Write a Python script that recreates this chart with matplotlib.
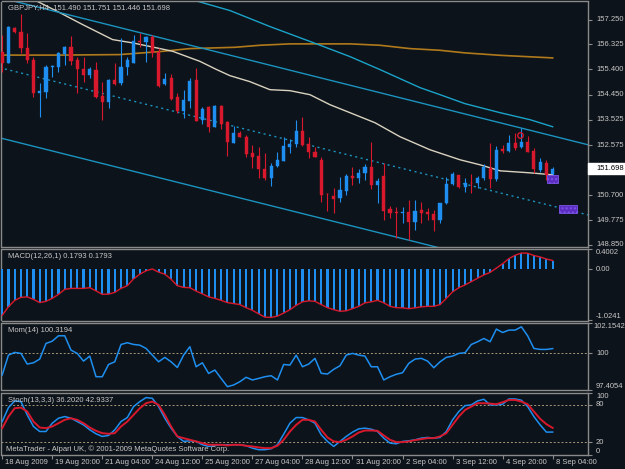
import matplotlib
matplotlib.use('Agg')
import matplotlib.pyplot as plt
from matplotlib.patches import Rectangle
from matplotlib.transforms import blended_transform_factory, offset_copy

# ---------------- data ----------------
opens = [156.056, 155.645, 156.952, 156.802, 156.205, 155.757, 154.525, 154.563, 155.496, 155.496,
         155.981, 156.242, 155.757, 155.421, 155.197, 155.384, 154.413, 154.189, 155.011, 154.899,
         155.496, 155.645, 156.466, 156.429, 156.616, 156.056, 154.861, 155.085, 154.376, 153.853,
         154.227, 155.011, 153.517, 154.003, 153.256, 154.040, 153.443, 152.659, 153.032, 152.883,
         152.286, 152.174, 151.688, 151.352, 151.800, 151.987, 152.509, 152.621, 153.107, 152.621,
         152.323, 152.024, 150.755, 150.680, 150.606, 150.867, 151.427, 151.352, 151.539, 151.763,
         151.091, 151.427, 150.195, 150.083, 150.060, 150.083, 149.710, 150.158, 150.083, 150.008,
         149.784, 150.419, 151.128, 151.464, 151.016, 151.166, 151.166, 151.352, 151.726, 151.315,
         152.435, 152.360, 152.659, 152.509, 152.696, 152.360, 151.651, 151.912, 151.490]
highs = [156.690, 157.000, 156.989, 157.474, 156.765, 155.869, 154.899, 155.571, 155.571, 156.056,
         156.280, 156.653, 155.869, 155.869, 155.496, 155.683, 154.936, 155.048, 155.645, 156.578,
         155.869, 156.690, 156.765, 156.653, 156.690, 156.205, 155.272, 155.235, 154.525, 154.637,
         155.085, 155.459, 154.003, 154.040, 154.077, 154.077, 153.480, 153.293, 153.107, 152.957,
         152.584, 152.509, 152.286, 151.912, 152.323, 152.883, 152.808, 153.517, 153.629, 152.883,
         152.509, 152.136, 150.792, 150.979, 151.390, 151.502, 151.763, 151.688, 151.875, 152.696,
         151.352, 151.912, 150.307, 150.270, 150.270, 150.531, 150.531, 150.456, 150.232, 150.158,
         150.419, 151.390, 151.576, 151.464, 151.352, 151.502, 151.427, 151.875, 152.659, 152.547,
         152.584, 152.957, 153.032, 153.219, 152.920, 152.472, 152.099, 152.024, 151.751]
lows = [155.309, 155.620, 156.765, 156.019, 155.645, 154.376, 153.629, 154.339, 155.123, 155.309,
        155.571, 155.571, 154.525, 154.936, 155.085, 154.339, 153.517, 153.965, 154.824, 154.824,
        155.197, 155.645, 156.242, 155.683, 155.869, 154.749, 154.824, 154.264, 153.779, 153.592,
        153.965, 153.480, 153.368, 153.069, 153.256, 153.181, 152.174, 152.659, 152.883, 152.136,
        151.726, 151.352, 151.278, 151.054, 151.763, 151.987, 152.286, 152.509, 152.547, 152.099,
        152.136, 150.456, 150.120, 150.046, 150.456, 150.718, 151.091, 151.166, 151.278, 150.942,
        150.419, 149.784, 149.859, 149.112, 149.672, 149.038, 149.411, 149.672, 149.784, 149.374,
        149.672, 150.382, 151.091, 150.979, 150.830, 150.792, 150.979, 151.278, 150.979, 151.240,
        152.286, 152.323, 152.397, 152.472, 152.323, 151.539, 151.576, 151.278, 151.446]
closes = [155.645, 156.989, 156.802, 156.205, 155.757, 154.525, 154.600, 155.496, 155.533, 156.019,
          156.242, 155.720, 155.421, 155.197, 155.421, 154.376, 154.189, 155.011, 154.861, 155.496,
          155.757, 156.466, 156.429, 156.616, 156.019, 154.787, 155.048, 154.301, 153.853, 154.264,
          154.973, 153.480, 153.928, 153.256, 154.040, 153.368, 152.696, 153.032, 152.883, 152.248,
          152.136, 151.688, 151.352, 151.800, 152.024, 152.547, 152.621, 153.107, 152.584, 152.323,
          152.136, 150.718, 150.740, 150.568, 150.904, 151.427, 151.352, 151.539, 151.763, 151.091,
          151.240, 150.120, 150.046, 150.060, 150.083, 149.710, 150.120, 150.046, 150.008, 149.784,
          150.419, 151.128, 151.502, 151.016, 151.166, 151.150, 151.352, 151.763, 151.315, 152.397,
          152.360, 152.659, 152.472, 152.696, 152.323, 151.688, 151.950, 151.464, 151.698]

orange_bars = [-0.4, 9.2, 18.8, 25.2, 30.0, 37.2, 41.2, 46.0, 55.6, 60.4, 65.2, 70.0, 74.0, 79.6, 88.0]
orange_vals = [155.925, 155.925, 155.944, 156.056, 156.167, 156.216, 156.291, 156.343, 156.343,
               156.291, 156.167, 156.104, 156.007, 155.917, 155.820]
white_bars = [5.65, 9.17, 12.85, 17.65, 20.85, 24.7, 27.25, 31.6, 34.3, 36.4, 39.6, 42.8, 46.0,
              49.2, 52.4, 55.6, 59.6, 63.6, 68.4, 73.2, 76.4, 79.6, 84.4, 88.0]
white_vals = [157.922, 157.511, 157.063, 156.503, 156.380, 156.194, 156.067, 155.693, 155.384,
              155.160, 154.936, 154.637, 154.600, 154.450, 154.077, 153.779, 153.405, 152.883,
              152.397, 152.024, 151.837, 151.613, 151.538, 151.464]
cyan_bars = [30.8, 36.4, 42.8, 49.7, 55.6, 60.4, 66.8, 70.0, 74.0, 79.6, 84.4, 88.0]
cyan_vals = [157.959, 157.586, 156.989, 156.391, 155.869, 155.384, 154.712, 154.450, 154.115,
             153.779, 153.517, 153.256]
chan_bars = [-0.43, 93.65]
chan_mid = [155.458, 149.971]
chan_half = 2.613

box1_bars = [87.1, 88.85]
box1_prices = [151.166, 151.464]
box2_bars = [89.0, 91.9]
box2_prices = [150.046, 150.345]
circle_bar = 82.8
circle_price = 152.957

macd = [-0.92, -0.75, -0.62, -0.56, -0.55, -0.60, -0.665, -0.64, -0.58, -0.50,
        -0.40, -0.38, -0.38, -0.38, -0.366, -0.43, -0.50, -0.495, -0.46, -0.38,
        -0.326, -0.19, -0.095, -0.027, 0.01, -0.054, -0.095, -0.197, -0.326, -0.36,
        -0.366, -0.434, -0.49, -0.55, -0.58, -0.62, -0.665, -0.685, -0.705, -0.767,
        -0.82, -0.89, -0.957, -0.963, -0.936, -0.875, -0.807, -0.72, -0.65, -0.63,
        -0.64, -0.705, -0.767, -0.807, -0.84, -0.83, -0.787, -0.74, -0.67, -0.65,
        -0.62, -0.67, -0.74, -0.767, -0.77, -0.787, -0.77, -0.75, -0.74, -0.74,
        -0.705, -0.58, -0.45, -0.366, -0.31, -0.244, -0.176, -0.11, -0.06, 0.027,
        0.115, 0.217, 0.285, 0.33, 0.326, 0.28, 0.25, 0.21, 0.1793]
mom = [98.46, 99.86, 100.05, 99.98, 99.23, 99.32, 99.58, 100.68, 100.84, 101.22,
       101.22, 100.21, 99.98, 99.44, 99.79, 98.34, 98.34, 99.20, 99.39, 100.61,
       100.73, 100.61, 100.56, 100.33, 99.86, 99.39, 99.70, 99.39, 98.99, 99.86,
       100.45, 99.04, 99.32, 98.57, 98.81, 98.22, 97.64, 97.76, 97.99, 98.30,
       98.11, 98.22, 98.34, 98.41, 98.11, 99.20, 99.16, 99.86, 99.04, 99.23,
       99.63, 98.58, 98.53, 98.86, 99.11, 99.86, 99.98, 99.86, 99.79, 99.04,
       99.04, 98.11, 98.34, 98.51, 98.62, 99.28, 99.58, 99.63, 99.44, 98.97,
       99.39, 99.70, 99.79, 99.98, 100.03, 100.61, 100.80, 101.03, 100.80, 101.69,
       101.45, 101.62, 101.62, 101.85, 101.22, 100.33, 100.26, 100.26, 100.32]
stoch_main = [53.0, 75.6, 86.4, 85.3, 63.9, 45.2, 37.1, 37.1, 50.5, 58.5,
              61.2, 58.5, 53.2, 47.8, 39.8, 33.4, 29.1, 30.7, 39.8, 53.2,
              59.6, 77.3, 85.3, 91.8, 90.7, 77.3, 58.5, 42.5, 29.1, 21.1,
              22.1, 21.1, 15.7, 13.0, 14.6, 15.7, 15.7, 15.7, 15.7, 14.1,
              10.3, 7.7, 7.7, 9.3, 15.7, 32.8, 50.5, 59.6, 59.6, 55.9,
              50.5, 31.8, 21.1, 13.0, 21.1, 29.1, 36.1, 41.4, 42.5, 40.8,
              37.1, 26.4, 18.4, 17.3, 21.1, 22.1, 23.7, 26.4, 27.5, 26.4,
              27.5, 37.1, 55.9, 69.3, 78.9, 80.0, 86.4, 89.1, 80.0, 80.0,
              81.1, 89.6, 89.6, 87.5, 77.3, 61.2, 47.8, 36.1, 36.2]
stoch_signal = [42.4, 61.2, 74.6, 75.7, 69.3, 53.2, 43.5, 42.5, 45.2, 50.5,
                55.9, 58.5, 55.9, 50.5, 43.5, 38.2, 34.4, 33.4, 34.4, 45.2,
                53.2, 63.9, 74.6, 82.7, 85.3, 80.0, 63.9, 45.2, 29.1, 26.4,
                23.7, 21.1, 18.4, 15.7, 15.7, 15.7, 14.6, 15.7, 15.7, 14.1,
                13.0, 11.4, 10.3, 10.3, 14.1, 23.7, 37.1, 47.8, 55.9, 55.9,
                53.2, 39.8, 27.5, 21.1, 20.0, 23.7, 29.1, 35.5, 38.7, 38.7,
                38.2, 30.7, 23.7, 20.0, 20.0, 21.1, 23.2, 24.8, 26.4, 26.4,
                29.1, 34.4, 47.8, 61.2, 71.9, 77.3, 82.7, 82.7, 82.1, 81.1,
                84.3, 88.0, 88.0, 85.3, 81.1, 69.3, 57.5, 48.9, 42.9]

price_ticks = [157.250, 156.325, 155.400, 154.450, 153.525, 152.575, 150.700, 149.775, 148.850]
current_price = 151.698
time_tick_bars = [0, 8, 16, 24, 32, 40, 48, 56, 64, 72, 80, 88]
time_labels = ['18 Aug 2009', '19 Aug 20:00', '21 Aug 04:00', '24 Aug 12:00', '25 Aug 20:00',
               '27 Aug 04:00', '28 Aug 12:00', '31 Aug 20:00', '2 Sep 04:00', '3 Sep 12:00',
               '4 Sep 20:00', '8 Sep 04:00']

# ---------------- style ----------------
BG = '#0d131a'
FG = '#c8c8c8'
SPINE = '#8a8a8a'
BLUE = '#1e8ff0'
RED = '#d8182c'
FS = 5.5
LX = 596 / 625
plt.rcParams['font.family'] = ['Liberation Sans', 'DejaVu Sans']

W, H = 625, 469
fig = plt.figure(figsize=(W / 100, H / 100), dpi=100, facecolor=BG)

def panel(top, bot):
    ax = fig.add_axes([1.5 / W, 1 - bot / H, 586.5 / W, (bot - top) / H])
    ax.set_facecolor(BG)
    for s in ax.spines.values():
        s.set_color(SPINE)
        s.set_linewidth(1.0)
    ax.set_xlim(-0.11, 93.65)
    ax.tick_params(axis='x', which='both', length=0, labelbottom=False)
    ax.yaxis.tick_right()
    ax.tick_params(axis='y', colors=SPINE, length=3, width=0.8, labelright=False)
    return ax

ax = panel(1.5, 247)
axm = panel(249.5, 320.5)
axo = panel(322.5, 390)
axs = panel(392.5, 454.5)

n = len(opens)
bars = list(range(n))

# ---- main candles ----
ax.set_ylim(148.775, 157.922)
ax.set_yticks(price_ticks)
for i in bars:
    o, h, l, c = opens[i], highs[i], lows[i], closes[i]
    col = BLUE if c >= o else RED
    ax.vlines(i, l, h, color=col, lw=0.8, zorder=3)
    lo, hi = min(o, c), max(o, c)
    ax.bar(i, max(hi - lo, 0.02), bottom=lo, width=0.5, color=col, edgecolor=col,
           linewidth=0.3, zorder=4)

ax.plot(orange_bars, orange_vals, color='#b07a1c', lw=1.2, zorder=2)
ax.plot(white_bars, white_vals, color='#d9d2c0', lw=1.0, zorder=2)
ax.plot(cyan_bars, cyan_vals, color='#1aa3c9', lw=1.0, zorder=2)
ax.plot(chan_bars, chan_mid, color='#1a93c0', lw=1.0, ls=(0, (1.5, 2.5)), zorder=2)
ax.plot(chan_bars, [v + chan_half for v in chan_mid], color='#1a93c0', lw=1.0, zorder=2)
ax.plot(chan_bars, [v - chan_half for v in chan_mid], color='#1a93c0', lw=1.0, zorder=2)

for bb, pp in ((box1_bars, box1_prices), (box2_bars, box2_prices)):
    ax.add_patch(Rectangle((bb[0], pp[0]), bb[1] - bb[0], pp[1] - pp[0], facecolor='#5b2dc0',
                           edgecolor='#7b55e8', hatch='....', linewidth=0.6, zorder=5))
ax.plot([circle_bar], [circle_price], marker='o', ms=4, mfc='none', mec=RED, mew=1.0, zorder=6)

ax.text(6 / 586.5, 1 - 6.5 / 245.5, 'GBPJPY,H4  151.490 151.751 151.446 151.698', color=FG,
        fontsize=FS, transform=ax.transAxes, va='center', ha='left')

tx = blended_transform_factory(fig.transFigure, ax.transData)
for v in price_ticks:
    ax.text(LX, v, f'{v:.3f}', color=FG, fontsize=FS, va='center', ha='left',
            transform=tx, clip_on=False)
ax.add_patch(Rectangle((588 / W, current_price - 0.22), 37 / W, 0.44, transform=tx,
                       facecolor='white', edgecolor='white', clip_on=False, zorder=10))
ax.text(LX, current_price, f'{current_price:.3f}', color='black', fontsize=FS,
        va='center', ha='left', transform=tx, clip_on=False, zorder=11)

# ---- MACD ----
axm.set_ylim(-1.0241, 0.4002)
axm.set_yticks([0.4002, 0.0, -1.0241])
axm.bar(bars, macd, width=0.34, color=BLUE, zorder=3)
axm.plot(bars, macd, color=RED, lw=1.0, zorder=4)
axm.text(6 / 586.5, 1 - 7.5 / 71, 'MACD(12,26,1) 0.1793 0.1793', color=FG, fontsize=FS,
         transform=axm.transAxes, va='center', ha='left')
tm = blended_transform_factory(fig.transFigure, axm.transData)
axm.text(LX, 0.4002, '0.4002', color=FG, fontsize=FS, va='top', ha='left', transform=tm)
axm.text(LX, 0.0, '0.00', color=FG, fontsize=FS, va='center', ha='left', transform=tm)
axm.text(LX, -1.0241, '-1.0241', color=FG, fontsize=FS, va='bottom', ha='left', transform=tm)

# ---- Momentum ----
axo.set_ylim(97.4054, 102.1542)
axo.set_yticks([102.1542, 100, 97.4054])
axo.axhline(100, color='#a89878', lw=0.7, ls=(0, (2, 2)), zorder=2)
axo.plot(bars, mom, color=BLUE, lw=1.1, zorder=3)
axo.text(6 / 586.5, 1 - 8 / 67.5, 'Mom(14) 100.3194', color=FG, fontsize=FS,
         transform=axo.transAxes, va='center', ha='left')
to = blended_transform_factory(fig.transFigure, axo.transData)
axo.text(593 / W, 102.1542, '102.1542', color=FG, fontsize=FS, va='top', ha='left', transform=to)
axo.text(LX, 100, '100', color=FG, fontsize=FS, va='center', ha='left', transform=to)
axo.text(LX, 97.4054, '97.4054', color=FG, fontsize=FS, va='bottom', ha='left', transform=to)

# ---- Stochastic ----
axs.set_ylim(0, 100)
axs.set_yticks([100, 80, 20, 0])
for lvl in (80, 20):
    axs.axhline(lvl, color='#a89878', lw=0.7, ls=(0, (2, 2)), zorder=2)
axs.plot(bars, stoch_main, color=BLUE, lw=1.1, zorder=3)
axs.plot(bars, stoch_signal, color=RED, lw=1.4, zorder=4)
axs.text(6 / 586.5, 1 - 8 / 62, 'Stoch(13,3,3) 36.2020 42.9337', color=FG, fontsize=FS,
         transform=axs.transAxes, va='center', ha='left')
axs.text(4 / 586.5, 5.5 / 62, 'MetaTrader - Alpari UK, \u00a9 2001-2009 MetaQuotes Software Corp.',
         color=FG, fontsize=FS, transform=axs.transAxes, va='center', ha='left', zorder=6)
ts = blended_transform_factory(fig.transFigure, axs.transData)
axs.text(LX, 100, '100', color=FG, fontsize=FS, va='top', ha='left', transform=ts)
axs.text(LX, 80, '80', color=FG, fontsize=FS, va='center', ha='left', transform=ts)
axs.text(LX, 20, '20', color=FG, fontsize=FS, va='center', ha='left', transform=ts)
axs.text(LX, 0, '0', color=FG, fontsize=FS, va='bottom', ha='left', transform=ts)

# ---- time axis ----
axs.set_xticks(time_tick_bars)
axs.tick_params(axis='x', which='both', length=3, width=0.8, color=SPINE, direction='out')
tt = blended_transform_factory(axs.transData, fig.transFigure)
tt = offset_copy(tt, fig=fig, x=2.2, y=0, units='points')
for b, lab in zip(time_tick_bars, time_labels):
    axs.text(b, 1 - 462 / H, lab, color=FG, fontsize=FS, va='center', ha='left',
             transform=tt, clip_on=False)

fig.savefig('out.png', dpi=100, facecolor=BG)
